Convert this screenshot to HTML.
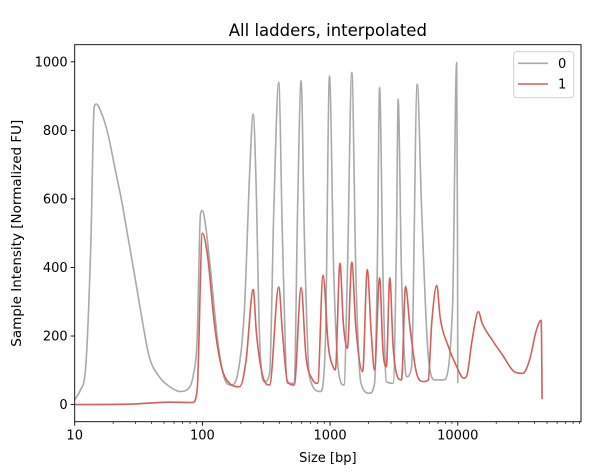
<!DOCTYPE html>
<html><head><meta charset="utf-8"><style>
body{margin:0;background:#fff}
svg{display:block;font-family:"DejaVu Sans","Liberation Sans",sans-serif}
</style></head><body>
<svg id="chart" width="597" height="474"></svg>
<script>
const xTicks=[10,100,1000,10000];
const xTickLabels=["10","100","1000","10000"];
const yTicks=[0,200,400,600,800,1000];
const yTickLabels=["0","200","400","600","800","1000"];
const seriesNames=["0","1"];
const s0x=[10,11.1,12.2,13.4,14.2,14.7,16.1,18.2,20.6,23.3,26.4,29.9,33.8,38.3,46,55.5,66.8,77.9,85.4,90.9,96.7,100,106.3,116.6,131.6,148.6,167.8,189.4,213.8,234.3,250,262,280.8,307,336,363,396,424,464,524,557,593,630,690,840,920,989,1069,1170,1285,1366,1480,1592,1745,2034,2230,2340,2442,2594,2758,3117,3310,3412,3624,3967,4346,4812,5205,5876,6636,7717,9100,9800,9950,10000];
const s0y=[14,43,110,480,867,877,853,790,692,595,479,363,246,140,81,52,38,47,91,188,557,566,518,382,188,77,57,91,285,673,848,673,188,67,91,576,940,479,62,62,576,945,479,81,38,188,959,382,91,57,382,969,382,62,33,62,382,925,382,67,62,479,891,382,81,110,935,576,140,72,72,285,998,500,62];
const s1x=[10,26.4,55,84,91,100,110,124,140,163,196,220,250,265,298,336,396,424,464,524,593,648,731,800,880,970,1069,1100,1195,1270,1366,1480,1590,1800,1955,2100,2230,2442,2594,2758,2935,3117,3412,3624,3900,4220,4760,5370,5876,6250,6850,7270,8445,9830,11100,11800,12950,14500,15530,18640,22370,27710,32280,36490,41250,45000,45760];
const s1y=[0,1,7,6,43,500,431,237,115,62,52,130,336,208,81,57,343,208,67,57,341,140,72,62,377,169,106,101,413,237,164,416,227,96,394,208,101,370,159,110,370,169,77,72,345,227,91,67,72,237,348,256,169,110,77,86,188,271,237,188,145,96,91,130,217,246,16];

const svg=document.getElementById('chart');
const NS='http://www.w3.org/2000/svg';
const L=74.7,R=581,T=44.7,B=421.7;
const xMin=1,xMax=4.965,yMin=-50,yMax=1050;
function X(v){return L+(Math.log10(v)-xMin)/(xMax-xMin)*(R-L);}
function Y(v){return B-(v-yMin)/(yMax-yMin)*(B-T);}
function mk(tag,attrs,parent){const e=document.createElementNS(NS,tag);for(const k in attrs)e.setAttribute(k,attrs[k]);(parent||svg).appendChild(e);return e;}

const t=mk('text',{x:(L+R)/2,y:36,'text-anchor':'middle','font-size':'16.5',fill:'#000'});
t.textContent='All ladders, interpolated';



function monotonePath(px,py){
  const n=px.length,d=[],m=new Array(n);
  for(let i=0;i<n-1;i++)d.push((py[i+1]-py[i])/(px[i+1]-px[i]));
  m[0]=d[0];m[n-1]=d[n-2];
  for(let i=1;i<n-1;i++){m[i]=(d[i-1]*d[i]<=0)?0:(d[i-1]+d[i])/2;}
  for(let i=0;i<n-1;i++){
    if(d[i]===0){m[i]=0;m[i+1]=0;continue;}
    const a=m[i]/d[i],b=m[i+1]/d[i],s=a*a+b*b;
    if(s>9){const tt=3/Math.sqrt(s);m[i]=tt*a*d[i];m[i+1]=tt*b*d[i];}
  }
  let s='M'+px[0].toFixed(2)+','+py[0].toFixed(2);
  for(let i=0;i<n-1;i++){
    const h=(px[i+1]-px[i])/3;
    s+='C'+(px[i]+h).toFixed(2)+','+(py[i]+m[i]*h).toFixed(2)+' '+(px[i+1]-h).toFixed(2)+','+(py[i+1]-m[i+1]*h).toFixed(2)+' '+px[i+1].toFixed(2)+','+py[i+1].toFixed(2);
  }
  return s;
}
function line(xs,ys,color,name){
  const p=mk('path',{d:monotonePath(xs.map(X),ys.map(Y)),fill:'none',stroke:color,'stroke-width':'1.6','stroke-linejoin':'round'});
  
  
}
line(s0x,s0y,'#a9a9a9','series-0-line');
line(s1x,s1y,'#d1605b','series-1-line');

const fr=mk('rect',{x:L,y:T,width:R-L,height:B-T,fill:'none',stroke:'#000','stroke-width':'0.9'});



xTicks.forEach((v,i)=>{
  mk('line',{x1:X(v),x2:X(v),y1:B,y2:B+4,stroke:'#000','stroke-width':'0.9'});
  const tl=mk('text',{x:X(v),y:B+18,'text-anchor':'middle','font-size':'13',fill:'#000'});
  tl.textContent=xTickLabels[i];
  
  
});
for(let e=1;e<5;e++){for(let m=2;m<10;m++){const v=m*Math.pow(10,e);if(X(v)<=R)mk('line',{x1:X(v),x2:X(v),y1:B,y2:B+2.2,stroke:'#000','stroke-width':'0.7'});}}
yTicks.forEach((v,i)=>{
  mk('line',{x1:L-4,x2:L,y1:Y(v),y2:Y(v),stroke:'#000','stroke-width':'0.9'});
  const tl=mk('text',{x:L-7,y:Y(v)+4.5,'text-anchor':'end','font-size':'13',fill:'#000'});
  tl.textContent=yTickLabels[i];
  
  
});
const xl=mk('text',{x:(L+R)/2,y:462,'text-anchor':'middle','font-size':'13',fill:'#000'});
xl.textContent='Size [bp]';


const yl=mk('text',{x:0,y:0,'text-anchor':'middle','font-size':'13.5',fill:'#000',transform:'translate(21,'+((T+B)/2)+') rotate(-90)'});
yl.textContent='Sample Intensity [Normalized FU]';



const lg=mk('g',{});


mk('rect',{x:513.7,y:51.7,width:60,height:46,rx:3,fill:'#fff','fill-opacity':'0.8',stroke:'#ccc','stroke-width':'0.9'},lg);
const colors=['#a9a9a9','#d1605b'];
seriesNames.forEach((n,i)=>{
  const g=mk('g',{},lg);
  
  
  const yy=63.3+i*20.7;
  mk('line',{x1:518,x2:548,y1:yy,y2:yy,stroke:colors[i],'stroke-width':'1.6'},g);
  const tx=mk('text',{x:558,y:yy+4.5,'font-size':'13',fill:'#000'},g);
  tx.textContent=n;
});
</script>
</body></html>
